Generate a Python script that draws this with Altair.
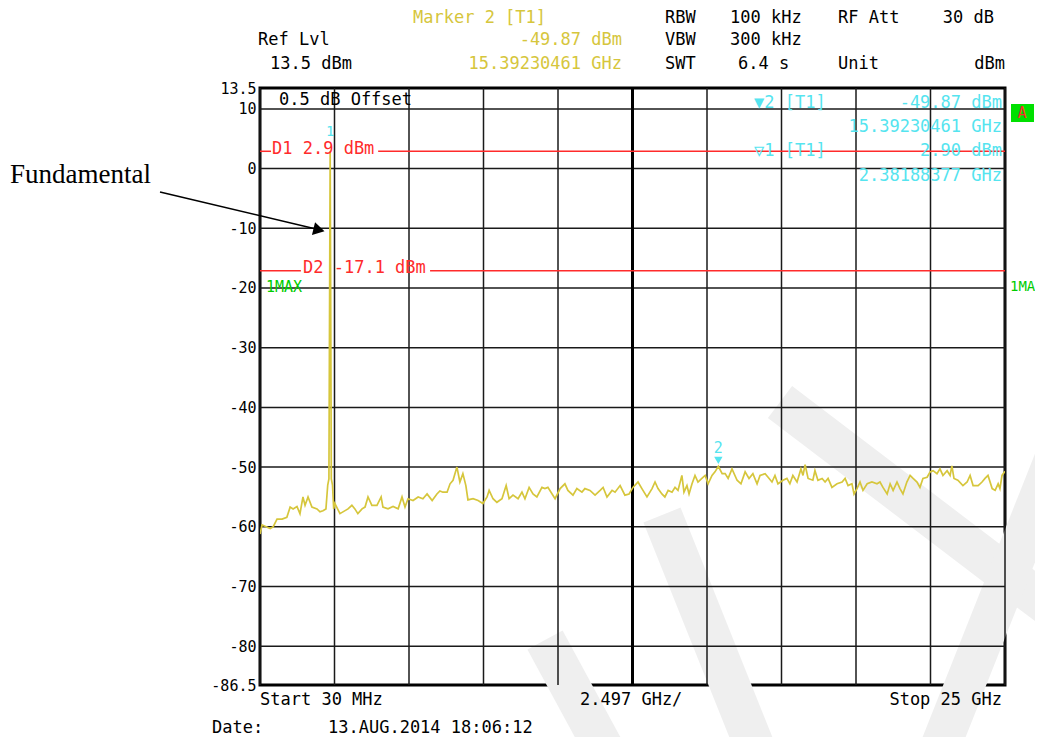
import altair as alt
import pandas as pd

# ---------------- data ----------------
freq_ghz = [
    0.03, 0.10, 0.20, 0.37, 0.47, 0.60, 0.77, 0.93, 1.04, 1.14, 1.27, 1.37, 1.47, 1.54, 1.64,
    1.77, 1.94, 2.04, 2.14, 2.24, 2.30, 2.34, 2.38188377, 2.42, 2.46, 2.50, 2.54, 2.71, 2.81,
    2.98, 3.11, 3.21, 3.31, 3.45, 3.55, 3.65, 3.78, 3.95, 4.09, 4.15, 4.32, 4.49, 4.66, 4.79,
    4.89, 4.99, 5.16, 5.33, 5.49, 5.63, 5.80, 5.96, 6.06, 6.16, 6.30, 6.40, 6.50, 6.63, 6.73,
    6.83, 6.93, 7.00, 7.17, 7.34, 7.50, 7.64, 7.71, 7.84, 7.97, 8.14, 8.28, 8.38, 8.51, 8.68,
    8.81, 8.91, 9.05, 9.18, 9.31, 9.48, 9.58, 9.68, 9.82, 9.92, 10.09, 10.25, 10.35, 10.52,
    10.65, 10.82, 10.92, 11.09, 11.26, 11.43, 11.53, 11.66, 11.83, 11.93, 12.10, 12.26, 12.40,
    12.53, 12.70, 12.83, 13.00, 13.17, 13.27, 13.37, 13.50, 13.60, 13.71, 13.84, 13.94, 14.04,
    14.17, 14.24, 14.34, 14.41, 14.51, 14.61, 14.71, 14.84, 14.95, 15.05, 15.18, 15.28,
    15.39230461, 15.52, 15.62, 15.72, 15.85, 16.02, 16.15, 16.29, 16.42, 16.55, 16.69, 16.79,
    16.96, 17.06, 17.19, 17.29, 17.39, 17.56, 17.69, 17.79, 17.89, 18.03, 18.16, 18.23, 18.30,
    18.40, 18.56, 18.63, 18.73, 18.87, 18.97, 19.07, 19.20, 19.37, 19.54, 19.64, 19.74, 19.87,
    19.94, 20.04, 20.14, 20.24, 20.38, 20.54, 20.71, 20.81, 20.91, 21.05, 21.15, 21.25, 21.38,
    21.48, 21.58, 21.71, 21.82, 21.92, 22.05, 22.15, 22.25, 22.39, 22.49, 22.59, 22.72, 22.82,
    22.92, 23.06, 23.16, 23.22, 23.29, 23.42, 23.59, 23.73, 23.83, 23.93, 24.10, 24.23, 24.33,
    24.43, 24.57, 24.67, 24.77, 24.83, 24.90, 25.00,
]
level_dbm = [
    -61.2, -59.7, -59.9, -60.3, -60.0, -58.7, -58.7, -58.4, -56.7, -57.0, -56.6, -57.8, -55.0, -56.4, -55.0,
    -56.7, -57.0, -57.5, -57.3, -57.0, -53.0, -52.0, 2.90, -52.0, -53.0, -57.0, -56.1, -57.8, -57.5,
    -57.0, -56.4, -57.0, -57.8, -57.0, -56.7, -55.0, -56.4, -56.4, -55.0, -56.7, -57.0, -56.6, -57.0, -55.0,
    -56.7, -55.3, -55.6, -55.0, -55.3, -54.5, -55.6, -54.5, -54.0, -54.2, -54.2, -52.8, -52.2, -50.0, -52.5,
    -51.1, -53.1, -55.5, -55.3, -55.6, -56.1, -55.0, -53.9, -55.3, -55.9, -55.3, -53.1, -55.3, -54.7, -55.3,
    -54.2, -55.3, -53.4, -54.5, -55.0, -53.4, -53.6, -53.4, -54.5, -55.3, -53.6, -52.8, -53.9, -54.7,
    -53.6, -54.2, -53.6, -53.9, -54.7, -53.9, -53.4, -55.0, -53.9, -54.2, -53.1, -54.7, -54.5,
    -53.4, -52.5, -53.6, -55.0, -53.6, -52.5, -53.6, -54.5, -55.0, -53.9, -54.2, -53.4, -53.9,
    -51.4, -54.2, -53.1, -54.5, -52.8, -51.4, -52.5, -51.9, -51.4, -52.8, -51.4, -50.8,
    -49.87, -51.1, -51.1, -51.9, -50.3, -52.2, -52.8, -50.8, -51.9, -51.1, -52.8, -51.4,
    -51.1, -51.7, -52.5, -51.4, -52.8, -52.2, -51.9, -52.8, -51.4, -52.5, -50.3, -51.4, -49.6,
    -51.9, -52.2, -50.6, -52.2, -51.9, -52.5, -51.9, -53.4, -52.8, -52.5, -51.9, -53.1, -52.8,
    -54.5, -53.6, -52.5, -53.9, -52.8, -52.5, -52.8, -52.5, -53.4, -54.5, -52.8, -53.9, -52.5,
    -53.6, -54.5, -52.5, -51.4, -51.9, -52.5, -53.4, -51.9, -51.7, -50.8, -50.6, -51.1, -50.3,
    -51.4, -50.6, -51.4, -49.8, -51.9, -52.2, -53.1, -52.5, -51.4, -53.1, -53.1, -52.5, -51.9,
    -51.4, -53.6, -53.9, -52.8, -53.6, -51.4, -50.7,
]

start_ghz = 0.03
stop_ghz = 25.0
div_ghz = 2.497
ref_top = 13.5
ref_bottom = -86.5
y_labels = [13.5, 10, 0, -10, -20, -30, -40, -50, -60, -70, -80, -86.5]
grid_levels = [10, 0, -10, -20, -30, -40, -50, -60, -70, -80]
grid_freqs = [start_ghz + k * div_ghz for k in range(11)]
center_freq = start_ghz + 5 * div_ghz

# red display lines (D1 / D2), interrupted where their labels sit
dline_f1 = [0.03, 3.99, 0.03, 5.73]
dline_f2 = [0.40, 25.0, 1.40, 25.0]
dline_l = [2.9, 2.9, -17.1, -17.1]

marker_freq = [2.38188377, 15.39230461]
marker_level = [2.90, -49.87]

# ---------------- styling ----------------
W, H = 745, 597
OX, OY = 260, 88  # page position of the plot area
MONO = "DejaVu Sans Mono"
YEL = "#d6c63c"
CYAN = "#55e4ef"
RED = "#ff2b2b"
GREEN = "#00cc00"

X = alt.Scale(domain=[start_ghz, stop_ghz], nice=False, zero=False)
Y = alt.Scale(domain=[ref_bottom, ref_top], nice=False, zero=False)
X_AXIS = alt.Axis(labels=False, ticks=False, domain=False, grid=False, title=None)
Y_AXIS = alt.Axis(
    values=y_labels, labelExpr="datum.value", labelFont=MONO, labelFontSize=15,
    labelColor="black", labelPadding=4, labelOverlap=False, ticks=False, domain=False,
    grid=False, title=None,
)


def xf(field):
    return alt.X(field, scale=X, axis=X_AXIS)


def yf(field):
    return alt.Y(field, scale=Y, axis=Y_AXIS)


one = pd.DataFrame({"k": [0]})


def txt(s, px, py, color="black", align="left", size=17, font=MONO, baseline="middle"):
    return alt.Chart(one).mark_text(
        text=s, align=align, baseline=baseline, font=font, fontSize=size, color=color
    ).encode(x=alt.value(px - OX), y=alt.value(py - OY))


def band(x1, y1, x2, y2, w=40):
    return alt.Chart(one).mark_rule(color="#efefef", strokeWidth=w, strokeCap="butt").encode(
        x=alt.value(x1 - OX), y=alt.value(y1 - OY), x2=alt.value(x2 - OX), y2=alt.value(y2 - OY)
    )


layers = []

# watermark (faint)
layers += [
    band(780, 402, 1060, 615),
    band(1060, 445, 935, 760),
    band(662, 515, 760, 760),
    band(545, 640, 610, 760),
]

# grid
gv = alt.Chart(pd.DataFrame({"f": grid_freqs})).mark_rule(color="#1a1a1a", strokeWidth=1.5).encode(
    x=xf("f:Q")
)
gh = alt.Chart(pd.DataFrame({"l": grid_levels})).mark_rule(color="#1a1a1a", strokeWidth=1.5).encode(
    y=yf("l:Q")
)
gc = alt.Chart(pd.DataFrame({"f": [center_freq]})).mark_rule(color="black", strokeWidth=3).encode(
    x=xf("f:Q")
)
layers += [gv, gh, gc]

# display lines
dl = alt.Chart(pd.DataFrame({"f1": dline_f1, "f2": dline_f2, "l": dline_l})).mark_rule(
    color=RED, strokeWidth=1.5
).encode(x=xf("f1:Q"), x2="f2:Q", y=yf("l:Q"))
layers.append(dl)

# trace
trace = alt.Chart(pd.DataFrame({"f": freq_ghz, "l": level_dbm})).mark_line(
    color=YEL, strokeWidth=1.7, clip=True
).encode(x=xf("f:Q"), y=yf("l:Q"))
layers.append(trace)

# markers
mk = pd.DataFrame({"f": marker_freq[1:], "l": marker_level[1:]})
layers.append(
    alt.Chart(mk).mark_point(shape="triangle-down", filled=True, color=CYAN, size=70, opacity=1, yOffset=-6)
    .encode(x=xf("f:Q"), y=yf("l:Q"))
)
layers.append(
    alt.Chart(mk).mark_text(text="2", color=CYAN, font=MONO, fontSize=15, yOffset=-18)
    .encode(x=xf("f:Q"), y=yf("l:Q"))
)
mk1 = pd.DataFrame({"f": marker_freq[:1], "l": marker_level[:1]})
layers.append(
    alt.Chart(mk1).mark_text(text="1", color=CYAN, font=MONO, fontSize=14, yOffset=-19)
    .encode(x=xf("f:Q"), y=yf("l:Q"))
)

# header
layers += [
    txt("Marker 2 [T1]", 413, 18, YEL),
    txt("RBW", 665, 18), txt("100 kHz", 730, 18), txt("RF Att", 838, 18),
    txt("30 dB", 994, 18, align="right"),
    txt("Ref Lvl", 258, 40), txt("-49.87 dBm", 622, 40, YEL, "right"),
    txt("VBW", 665, 40), txt("300 kHz", 730, 40),
    txt("13.5 dBm", 270, 64), txt("15.39230461 GHz", 622, 64, YEL, "right"),
    txt("SWT", 665, 64), txt("6.4 s", 738, 64), txt("Unit", 838, 64),
    txt("dBm", 1005, 64, align="right"),
]

# in-plot annotations
layers += [
    txt("0.5 dB Offset", 279, 100),
    txt("D1 2.9 dBm", 272, 149, RED),
    txt("D2 -17.1 dBm", 303, 268, RED),
    txt("1MAX", 266, 287, GREEN, size=15),
    txt("1MA", 1010, 287, GREEN, size=14),
    txt("\u25bc2 [T1]", 754, 103, CYAN),
    txt("-49.87 dBm", 1002, 103, CYAN, "right"),
    txt("15.39230461 GHz", 1002, 127, CYAN, "right"),
    txt("\u25bd1 [T1]", 754, 151, CYAN),
    txt("2.90 dBm", 1002, 151, CYAN, "right"),
    txt("2.38188377 GHz", 1002, 176, CYAN, "right"),
]

# "A" box
layers.append(
    alt.Chart(one).mark_rect(color="#00e000").encode(
        x=alt.value(1011 - OX), x2=alt.value(1034 - OX), y=alt.value(104 - OY), y2=alt.value(122 - OY)
    )
)
layers.append(txt("A", 1022, 113, RED, "center", size=15))

# bottom texts
layers += [
    txt("Start 30 MHz", 260, 700),
    txt("2.497 GHz/", 580, 700),
    txt("Stop 25 GHz", 1002, 700, align="right"),
    txt("Date:", 212, 728),
    txt("13.AUG.2014  18:06:12", 328, 728),
]

# Fundamental annotation
layers.append(txt("Fundamental", 10, 183, "black", "left", size=27, font="Liberation Serif", baseline="alphabetic"))
layers.append(
    alt.Chart(one).mark_rule(color="black", strokeWidth=1.6).encode(
        x=alt.value(160 - OX), y=alt.value(192 - OY), x2=alt.value(316 - OX), y2=alt.value(229 - OY)
    )
)
layers.append(
    alt.Chart(one).mark_point(shape="triangle-right", filled=True, color="black", opacity=1, size=170, angle=13.6)
    .encode(x=alt.value(319 - OX), y=alt.value(230 - OY))
)

chart = alt.layer(*layers).properties(
    width=W,
    height=H,
    autosize=alt.AutoSizeParams(type="none"),
    padding={"left": 252, "top": 80, "right": 30, "bottom": 52},
    background="white",
).configure_view(stroke="black", strokeWidth=3)

chart.save("out.html", embed_options={"renderer": "svg", "actions": False})
